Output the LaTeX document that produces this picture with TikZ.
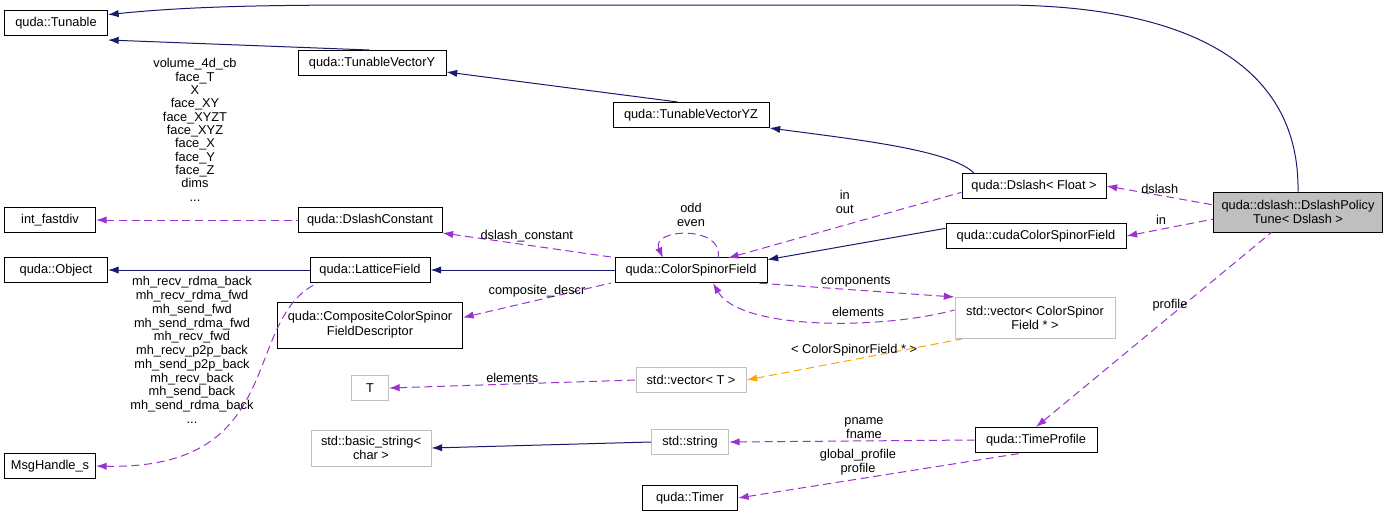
\documentclass[tikz,border=0pt]{standalone}
\usepackage{fontspec}
\setmainfont{Liberation Sans}
\usetikzlibrary{arrows.meta}
\definecolor{navy}{HTML}{191970}
\definecolor{purp}{HTML}{9A32CD}
\definecolor{orng}{HTML}{FFA500}
\definecolor{gbord}{HTML}{BFBFBF}
\begin{document}
\begin{tikzpicture}[x=0.75pt,y=-0.75pt,
  every node/.style={font=\fontsize{9.6}{11}\selectfont,inner sep=0pt,text=black},
  box/.style 2 args={draw=black,line width=0.75pt,minimum width=#1*0.75pt,minimum height=#2*0.75pt,align=center},
  gbox/.style 2 args={box={#1}{#2},draw=gbord},
  inh/.style={navy,line width=0.75pt,{Latex[length=8pt,width=5.5pt]}-},
  use/.style={purp,line width=0.75pt,dash pattern=on 6pt off 3.5pt,{Latex[length=8pt,width=5.5pt]}-},
  tuse/.style={use,orng},
  lab/.style={align=center,font=\fontsize{9.6}{10.5}\selectfont}]
\useasboundingbox (0,0) rectangle (1389,519);
\node[box={103}{25}] (tun) at (56,23) {quda::Tunable};
\node[box={148}{25}] (tvy) at (372,63) {quda::TunableVectorY};
\node[box={156}{25}] (tvyz) at (691,115) {quda::TunableVectorYZ};
\node[box={144}{25}] (dsl) at (1034,186) {quda::Dslash< Float >};
\node[box={169}{40},fill=gbord] (pol) at (1298,212) {quda::dslash::DslashPolicy\\Tune< Dslash >};
\node[box={180}{25}] (cuda) at (1036,236) {quda::cudaColorSpinorField};
\node[box={91}{25}] (ifd) at (50,220) {int\_fastdiv};
\node[box={144}{25}] (dc) at (370,220) {quda::DslashConstant};
\node[box={103}{25}] (obj) at (56,270) {quda::Object};
\node[box={120}{25}] (lf) at (370,270) {quda::LatticeField};
\node[box={152}{25}] (csf) at (691,270) {quda::ColorSpinorField};
\node[box={185}{46}] (ccd) at (370,325) {quda::CompositeColorSpinor\\FieldDescriptor};
\node[gbox={160}{41}] (vcsf) at (1035,318) {std::vector< ColorSpinor\\Field * >};
\node[gbox={37}{25}] (T) at (370,388) {T};
\node[gbox={110}{25}] (vT) at (691,380) {std::vector< T >};
\node[box={91}{25}] (msg) at (50,466) {MsgHandle\_s};
\node[gbox={120}{36}] (bs) at (371,448) {std::basic\_string<\\char >};
\node[gbox={77}{25}] (str) at (690,442) {std::string};
\node[box={122}{25}] (tp) at (1036,440) {quda::TimeProfile};
\node[box={95}{25}] (tmr) at (690,498) {quda::Timer};

\draw[inh] ([yshift=-3pt]tun.south east) -- ([xshift=-2pt]tvy.north);
\draw[inh] ([yshift=3pt]tvy.south east) -- ([xshift=-10pt]tvyz.north);
\draw[inh] (tvyz.south east) .. controls (860,140) and (950,150) .. ([xshift=-45pt]dsl.north);
\draw[inh] ([yshift=-3.5pt]tun.north east) .. controls (200,5) and (300,5) .. (400,5) -- (1000,5) .. controls (1180,5) and (1300,60) .. (pol.north);
\draw[inh] ([yshift=-2pt]csf.north east) -- ([yshift=-4pt]cuda.north west);
\draw[inh] (lf.east) -- (csf.west);
\draw[inh] (obj.east) -- (lf.west);
\draw[inh] (bs.east) -- (str.west);

\draw[use] (dsl.east) -- ([yshift=-10pt]pol.north west) node[pos=0.5,above=1pt,lab]{dslash};
\draw[use] (cuda.east) -- ([yshift=10pt]pol.south west) node[pos=0.4,above=3pt,lab]{in};
\draw[use] (tp.north) -- ([xshift=-20pt]pol.south);
\node[lab] at (1170,305) {profile};
\draw[use] (728,258) -- ([yshift=5pt]dsl.south west) node[pos=0.5,above=8pt,lab]{in\\out};
\draw[use] (663,258) .. controls (650,228) and (725,225) .. (718,258);
\node[lab] (oe) at (691,215) {odd\\even};
\draw[use] (dc.south east) -- ([xshift=-60pt]csf.north) node[pos=0.5,above=2pt,lab]{dslash\_constant};
\draw[use] (ifd.east) -- (dc.west);
\node[lab,font=\fontsize{9.6}{10}\selectfont] (l1) at (195,130) {volume\_4d\_cb\\face\_T\\X\\face\_XY\\face\_XYZT\\face\_XYZ\\face\_X\\face\_Y\\face\_Z\\dims\\...};
\draw[use] ([yshift=-12pt]ccd.north east) -- ([xshift=-60pt]csf.south) node[pos=0.5,above=2pt,lab]{composite\_descr};
\draw[use] (vcsf.north west) -- ([xshift=-8pt]csf.south east) node[pos=0.5,above=2pt,lab]{components};
\draw[use] (713,283) .. controls (740,330) and (880,330) .. ([yshift=6pt]vcsf.west);
\node[lab] at (858,312) {elements};
\draw[use] (T.east) -- (vT.west) node[pos=0.5,above=1pt,lab]{elements};
\draw[tuse] (vT.east) -- ([xshift=-55pt]vcsf.south) node[pos=0.5,above=2pt,lab]{< ColorSpinorField * >};
\draw[use] (msg.east) .. controls (290,470) and (240,320) .. ([xshift=6pt]lf.south west);
\node[lab,font=\fontsize{9.6}{10.3}\selectfont] (l2) at (192,350) {mh\_recv\_rdma\_back\\mh\_recv\_rdma\_fwd\\mh\_send\_fwd\\mh\_send\_rdma\_fwd\\mh\_recv\_fwd\\mh\_recv\_p2p\_back\\mh\_send\_p2p\_back\\mh\_recv\_back\\mh\_send\_back\\mh\_send\_rdma\_back\\...};
\draw[use] (str.east) -- (tp.west) node[pos=0.55,above=1pt,lab]{pname\\fname};
\draw[use] (tmr.east) -- ([xshift=-10pt]tp.south);
\node[lab] at (858,462) {global\_profile\\profile};
\end{tikzpicture}
\end{document}
